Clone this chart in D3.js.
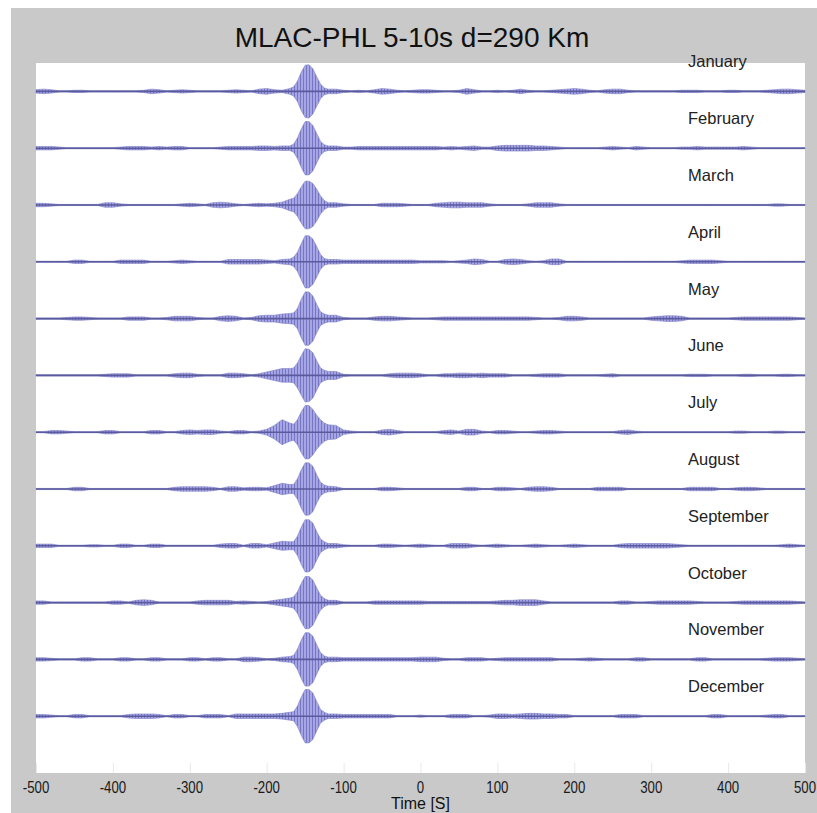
<!DOCTYPE html>
<html>
<head>
<meta charset="utf-8">
<script src="https://cdn.jsdelivr.net/npm/d3@7"></script>
<style>
  html, body { margin: 0; padding: 0; background: #ffffff; }
  svg { display: block; }
</style>
</head>
<body>
<svg id="chart" width="817" height="813"></svg>
<script>
// Monthly stacked cross-correlation traces, MLAC-PHL, 5-10 s band.
const chartTitle = "MLAC-PHL 5-10s d=290 Km";
const xAxisLabel = "Time [S]";
const months = ["January", "February", "March", "April", "May", "June",
                "July", "August", "September", "October", "November", "December"];
const xTicks = [-500, -400, -300, -200, -100, 0, 100, 200, 300, 400, 500];

// Lag times (s) at which each trace envelope is sampled (denser around the main arrival)
const sampleTimes = [
  ...d3.range(-500, -170, 10),
  ...d3.range(-170, -115, 5),
  ...d3.range(-110, 501, 10)
];

// Oscillation envelope of each trace (hundredths of the trace spacing), one value per sample time
const envJanuary = [
  3,4,3,1,1,2,2,1,1,1,  1,1,1,1,2,4,3,1,2,3,  2,1,1,1,1,2,3,2,1,4, 5,3,2,
  5,8,18,34,46,47,40,26,13,6,4,
  4, 2,1,2,1,3,5,4,2,1,2,  3,3,2,1,1,2,5,3,1,1,  2,1,2,4,2,1,1,2,3,4,
  5,4,2,1,3,4,4,2,1,1,  1,1,1,1,2,2,2,1,1,1,  2,2,1,1,1,2,3,4,4,3, 2];
const envFebruary = [
  3,3,3,2,1,1,1,1,1,1,  1,2,3,3,3,2,3,2,3,3,  1,1,1,1,2,3,3,3,3,4, 4,3,4,
  4,7,18,34,47,47,40,26,12,6,4,
  4, 2,2,3,3,3,3,3,3,3,3,  3,3,3,2,3,2,3,4,2,2,  4,5,5,5,5,4,4,3,2,1,
  1,1,1,1,2,3,2,1,3,2,  1,1,1,1,2,2,3,2,2,2,  2,2,3,2,1,1,1,1,1,1, 1];
const envMarch = [
  3,3,2,1,1,1,1,1,1,4,  4,2,1,1,1,1,1,1,1,2,  3,2,1,4,5,4,2,1,2,3, 2,3,5,
  10,12,20,32,42,42,38,28,16,8,4,
  4, 2,1,1,1,1,3,3,3,2,1,  1,1,3,4,5,5,4,4,4,2,  1,1,1,1,2,4,4,4,2,1,
  1,1,1,1,1,1,1,1,1,1,  1,1,1,1,1,1,1,1,1,1,  1,1,1,1,1,1,2,2,1,1, 1];
const envApril = [
  1,1,1,1,1,3,3,1,1,1,  1,3,3,3,3,1,1,1,2,3,  2,1,1,1,1,4,4,4,4,4, 3,2,4,
  5,8,17,32,46,46,40,27,13,6,4,
  4, 3,3,3,3,3,3,3,3,3,3,  2,2,2,2,1,2,3,5,4,1,  1,4,5,4,2,1,2,5,5,1,
  1,1,1,1,1,1,1,1,1,1,  1,1,1,1,2,3,3,3,3,2,  1,1,1,1,1,1,1,1,1,1, 1];
const envMay = [
  1,1,1,1,2,3,3,2,1,1,  1,1,3,3,3,1,1,2,4,4,  4,2,1,1,4,5,4,1,2,5, 6,6,8,
  9,10,18,34,47,47,40,25,12,8,6,
  6, 2,1,1,1,3,4,4,3,2,1,  1,1,2,3,3,3,3,3,3,3,  3,3,3,3,3,2,1,1,2,4,
  4,3,1,1,1,1,1,1,1,1,  3,4,5,5,4,1,1,1,1,1,  1,2,3,3,3,3,3,3,3,2, 1];
const envJune = [
  1,1,1,1,1,1,1,1,1,2,  3,3,3,1,1,1,1,1,3,4,  4,2,1,1,1,4,4,3,1,3, 6,9,12,
  12,13,22,35,47,46,40,26,13,9,7,
  7, 2,1,1,1,1,1,3,4,4,4,  3,1,1,3,3,4,4,3,4,3,  3,3,1,1,1,2,3,3,3,1,
  1,1,1,1,2,3,1,1,1,1,  1,1,1,1,1,2,2,2,1,1,  1,1,2,2,1,1,1,2,2,1, 1];
const envJuly = [
  1,1,3,3,2,1,1,1,1,3,  3,1,1,1,1,3,3,1,1,3,  4,3,4,4,2,1,3,3,1,2, 5,12,22,
  16,14,22,36,47,47,40,30,22,16,13,
  12, 4,2,1,1,1,4,5,3,1,1,  1,1,1,3,4,2,5,5,2,1,  3,3,2,1,1,2,3,3,2,1,
  1,1,1,1,1,1,3,4,2,1,  1,1,1,1,1,1,1,1,1,1,  1,2,2,1,1,1,2,2,1,1, 1];
const envAugust = [
  1,1,1,1,1,3,3,1,1,1,  1,1,1,1,1,1,1,1,3,4,  4,4,4,3,1,4,4,2,3,3, 2,6,10,
  8,8,18,34,46,46,40,25,12,7,5,
  4, 1,1,1,1,1,3,3,2,1,1,  1,1,1,1,1,1,3,3,1,1,  3,3,2,1,3,4,4,3,1,1,
  1,1,1,3,3,3,3,1,1,1,  1,1,1,1,1,3,3,3,3,1,  1,2,3,3,2,1,1,1,1,1, 1];
const envSeptember = [
  3,3,3,1,1,1,1,2,2,1,  1,3,3,1,1,3,3,1,1,1,  1,1,1,1,3,4,4,1,4,4, 2,5,8,
  7,7,17,33,46,46,40,25,12,7,4,
  4, 2,1,1,1,1,3,3,2,1,2,  3,2,1,1,4,4,4,2,1,2,  3,2,1,1,2,3,2,1,1,2,
  3,2,1,1,1,1,3,4,4,4,  4,4,4,3,2,1,1,1,1,1,  1,1,1,1,1,1,1,2,3,2, 1];
const envOctober = [
  3,3,1,1,1,1,1,1,1,1,  3,3,1,4,5,4,1,1,1,1,  1,3,4,4,4,4,2,3,2,1, 2,4,6,
  8,10,19,34,46,46,40,26,13,7,4,
  4, 1,1,1,1,3,3,3,3,3,3,  3,2,2,2,2,2,2,2,2,2,  3,4,4,5,5,5,3,1,1,1,
  1,1,1,1,1,1,3,3,1,1,  2,3,3,3,3,3,2,1,1,1,  1,2,3,3,3,3,3,3,3,2, 1];
const envNovember = [
  3,3,2,1,1,1,3,3,1,1,  1,3,3,1,1,3,3,1,1,1,  3,3,1,3,3,1,1,4,4,3, 1,2,4,
  5,7,18,34,47,47,41,26,12,6,4,
  4, 3,3,3,3,3,3,3,3,3,3,  4,4,4,2,1,1,3,3,3,1,  2,3,3,3,3,3,3,3,1,1,
  1,2,3,2,1,1,1,1,3,3,  1,1,1,1,1,1,3,3,1,1,  1,1,1,1,1,2,3,3,3,2, 1];
const envDecember = [
  3,3,2,1,1,3,3,1,1,1,  1,1,3,4,4,4,3,1,3,3,  1,1,3,3,3,1,4,4,4,4, 4,4,5,
  7,8,18,34,47,47,41,26,12,7,4,
  4, 3,3,3,3,3,3,3,1,1,1,  2,1,1,1,3,3,3,1,1,2,  4,4,3,4,5,5,4,4,3,3,
  1,1,1,1,1,1,3,3,3,1,  1,1,1,1,1,1,1,1,3,3,  1,1,1,1,1,2,3,3,1,1, 1];

const envelopes = [envJanuary, envFebruary, envMarch, envApril, envMay, envJune,
                   envJuly, envAugust, envSeptember, envOctober, envNovember, envDecember];

// ---- layout ----
const W = 817, H = 813;
const frame = { left: 11, top: 8 };
const plot = { left: 36, top: 63, right: 805, bottom: 773 };
const innerW = plot.right - plot.left;
const innerH = plot.bottom - plot.top;
const FONT = "Liberation Sans, Arial, Helvetica, sans-serif";

const svg = d3.select("#chart");

// grey figure background
svg.append("rect")
  .attr("x", frame.left).attr("y", frame.top)
  .attr("width", W - frame.left).attr("height", H - frame.top)
  .attr("fill", "#c9c9c9");

// vertical hatch used to render the dense oscillations inside each envelope
const defs = svg.append("defs");
const pat = defs.append("pattern")
  .attr("id", "osc").attr("patternUnits", "userSpaceOnUse")
  .attr("width", 3).attr("height", 8);
pat.append("rect").attr("width", 3).attr("height", 8).attr("fill", "#a6a6e4");
pat.append("rect").attr("width", 1).attr("height", 8).attr("fill", "#7676c4");

const g = svg.append("g").attr("transform", `translate(${plot.left},${plot.top})`);

g.append("rect")
  .attr("width", innerW).attr("height", innerH)
  .attr("fill", "#ffffff");

// scales: x in lag seconds, y in hundredths of trace spacing (December at 100, January at 1200)
const x = d3.scaleLinear().domain([-500, 500]).range([0, innerW]);
const y = d3.scaleLinear().domain([0, 1250]).range([innerH, 0]);
const baseOf = i => (months.length - i) * 100;

// faint tick marks along the bottom of the axes
g.append("g")
  .attr("transform", `translate(0,${innerH})`)
  .call(d3.axisBottom(x).tickValues(xTicks).tickSize(-10).tickFormat(""))
  .call(a => a.select(".domain").remove())
  .call(a => a.selectAll("line").attr("stroke", "#e8e8e8"));

const traces = g.append("g").attr("class", "traces");

envelopes.forEach((env, i) => {
  const base = baseOf(i);
  const pts = sampleTimes.map((t, k) => ({ t, a: env[k] }));

  const area = d3.area()
    .x(d => x(d.t))
    .y0(d => y(base - d.a))
    .y1(d => y(base + d.a));

  traces.append("path")
    .datum(pts)
    .attr("d", area)
    .attr("fill", "url(#osc)")
    .attr("stroke", "#7e7ec6")
    .attr("stroke-width", 0.6);

  const line = d3.line()
    .x(d => x(d.t))
    .y(() => y(base));

  traces.append("path")
    .datum(pts)
    .attr("d", line)
    .attr("fill", "none")
    .attr("stroke", "#5a5a9e")
    .attr("stroke-width", 1.6);

  g.append("text")
    .attr("x", innerW - 117)
    .attr("y", y(base + 50))
    .attr("dominant-baseline", "middle")
    .attr("font-family", FONT)
    .attr("font-size", 16.5)
    .attr("fill", "#222")
    .text(months[i]);
});

// x tick labels (narrow numerals)
const tickG = svg.append("g")
  .attr("font-family", FONT)
  .attr("font-size", 17)
  .attr("fill", "#1a1a1a")
  .attr("text-anchor", "middle");
xTicks.forEach(v => {
  const cx = plot.left + x(v);
  tickG.append("text")
    .attr("transform", `translate(${cx},${plot.bottom + 20}) scale(0.78,1)`)
    .text(v);
});

// title
svg.append("text")
  .attr("x", 412)
  .attr("y", 47)
  .attr("text-anchor", "middle")
  .attr("font-family", FONT)
  .attr("font-size", 28)
  .attr("fill", "#111")
  .text(chartTitle);

// x axis label along the lower edge
svg.append("text")
  .attr("x", (plot.left + plot.right) / 2)
  .attr("y", 809)
  .attr("text-anchor", "middle")
  .attr("font-family", FONT)
  .attr("font-size", 16)
  .attr("fill", "#111")
  .text(xAxisLabel);
</script>
</body>
</html>
